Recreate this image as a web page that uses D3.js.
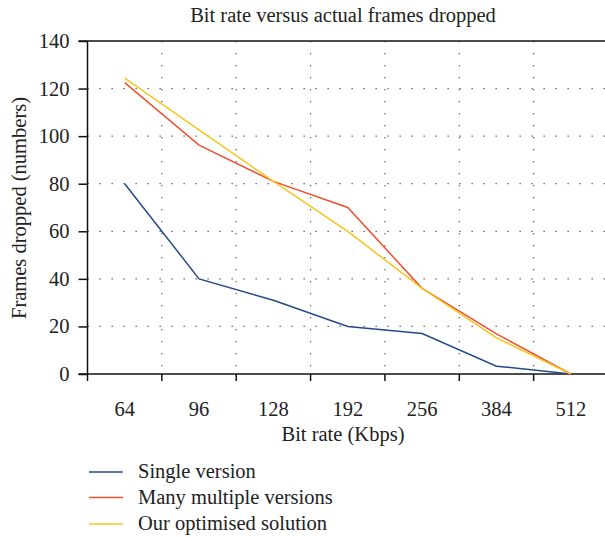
<!DOCTYPE html>
<html>
<head>
<meta charset="utf-8">
<script src="https://cdn.jsdelivr.net/npm/d3@7"></script>
<style>
  body { margin: 0; background: #fff; }
  svg { display: block; }
  svg text { font-family: "Liberation Serif", "DejaVu Serif", serif; }
</style>
</head>
<body>
<svg id="chart" width="605" height="537"></svg>
<script>
var categories = ["64", "96", "128", "192", "256", "384", "512"];
var yTicks = [0, 20, 40, 60, 80, 100, 120, 140];
var singleVersion = [80, 40, 31, 20, 17, 3.3, 0];
var manyVersions = [122.5, 96.2, 81, 70, 36, 16.9, 0];
var optimised = [124.4, 102.6, 81, 60, 36, 15.2, 0];

var seriesNames = ["Single version", "Many multiple versions", "Our optimised solution"];
var seriesColors = ["#24498a", "#f0502f", "#f7c51c"];
var seriesValues = [singleVersion, manyVersions, optimised];

var svg = d3.select("#chart");
var plotLeft = 87.5, plotRight = 608, plotTop = 41, plotBottom = 374;
var fontSize = "20.5px";

var x = d3.scaleBand().domain(categories).range([plotLeft, plotRight]).padding(0);
var y = d3.scaleLinear().domain([0, 140]).range([plotBottom, plotTop]);
var bw = x.bandwidth();

// title
svg.append("text")
    .attr("x", 343).attr("y", 22)
    .attr("text-anchor", "middle")
    .style("font-size", fontSize)
    .attr("fill", "#222")
    .text("Bit rate versus actual frames dropped");

// grid
var grid = svg.append("g");
grid.selectAll("line.h")
    .data(yTicks.filter(function(d){ return d > 0 && d < 140; }))
    .enter().append("line")
    .attr("x1", plotLeft).attr("x2", 605)
    .attr("y1", function(d){ return y(d); })
    .attr("y2", function(d){ return y(d); })
    .attr("stroke", "#555").attr("stroke-width", 1.2)
    .attr("stroke-dasharray", "1.3,10.7");
grid.selectAll("line.v")
    .data(categories.slice(1))
    .enter().append("line")
    .attr("x1", function(d){ return x(d); })
    .attr("x2", function(d){ return x(d); })
    .attr("y1", plotTop).attr("y2", plotBottom)
    .attr("stroke", "#555").attr("stroke-width", 1.2)
    .attr("stroke-dasharray", "1.3,10.7");

// axes
var yAxis = svg.append("g")
    .attr("transform", "translate(" + plotLeft + ",0)")
    .call(d3.axisLeft(y).tickValues(yTicks).tickSize(9).tickPadding(9));
var xAxis = svg.append("g")
    .attr("transform", "translate(0," + plotBottom + ")")
    .call(d3.axisBottom(x).tickSize(0).tickPadding(27));
// band boundary ticks
svg.append("g").selectAll("line")
    .data(categories)
    .enter().append("line")
    .attr("x1", function(d){ return x(d); })
    .attr("x2", function(d){ return x(d); })
    .attr("y1", plotBottom).attr("y2", plotBottom + 7)
    .attr("stroke", "#111").attr("stroke-width", 1.5);
// top border
svg.append("line")
    .attr("x1", plotLeft - 9).attr("x2", 605)
    .attr("y1", plotTop).attr("y2", plotTop)
    .attr("stroke", "#111").attr("stroke-width", 1.5);
// bottom axis line extended left
svg.append("line")
    .attr("x1", plotLeft - 9).attr("x2", 605)
    .attr("y1", plotBottom).attr("y2", plotBottom)
    .attr("stroke", "#111").attr("stroke-width", 1.5);

[yAxis, xAxis].forEach(function(a){
    a.select(".domain").remove();
    a.selectAll("line").attr("stroke", "#111").attr("stroke-width", 1.5);
    a.selectAll("text").style("font-size", fontSize)
        .attr("font-family", "Liberation Serif, serif").attr("fill", "#222");
});
svg.append("line")
    .attr("x1", plotLeft).attr("x2", plotLeft)
    .attr("y1", plotTop).attr("y2", plotBottom)
    .attr("stroke", "#111").attr("stroke-width", 1.5);

// axis labels
svg.append("text")
    .attr("x", 343).attr("y", 441)
    .attr("text-anchor", "middle")
    .style("font-size", fontSize).attr("fill", "#222")
    .text("Bit rate (Kbps)");
svg.append("text")
    .attr("transform", "rotate(-90)")
    .attr("x", -208).attr("y", 26)
    .attr("text-anchor", "middle")
    .style("font-size", fontSize).attr("fill", "#222")
    .text("Frames dropped (numbers)");

// lines
var line = d3.line()
    .x(function(d, i){ return x(categories[i]) + bw / 2; })
    .y(function(d){ return y(d); });
svg.append("g").selectAll("path")
    .data(seriesValues)
    .enter().append("path")
    .attr("d", line)
    .attr("fill", "none")
    .attr("stroke", function(d, i){ return seriesColors[i]; })
    .attr("stroke-width", 1.5);

// legend
var legend = svg.append("g").selectAll("g")
    .data(seriesNames)
    .enter().append("g")
    .attr("transform", function(d, i){ return "translate(89," + [472, 497.5, 524][i] + ")"; });
legend.append("line")
    .attr("x1", 0).attr("x2", 34)
    .attr("stroke", function(d, i){ return seriesColors[i]; })
    .attr("stroke-width", 1.5);
legend.append("text")
    .attr("x", 49).attr("y", 6)
    .style("font-size", fontSize).attr("fill", "#222")
    .text(function(d){ return d; });
</script>
</body>
</html>
